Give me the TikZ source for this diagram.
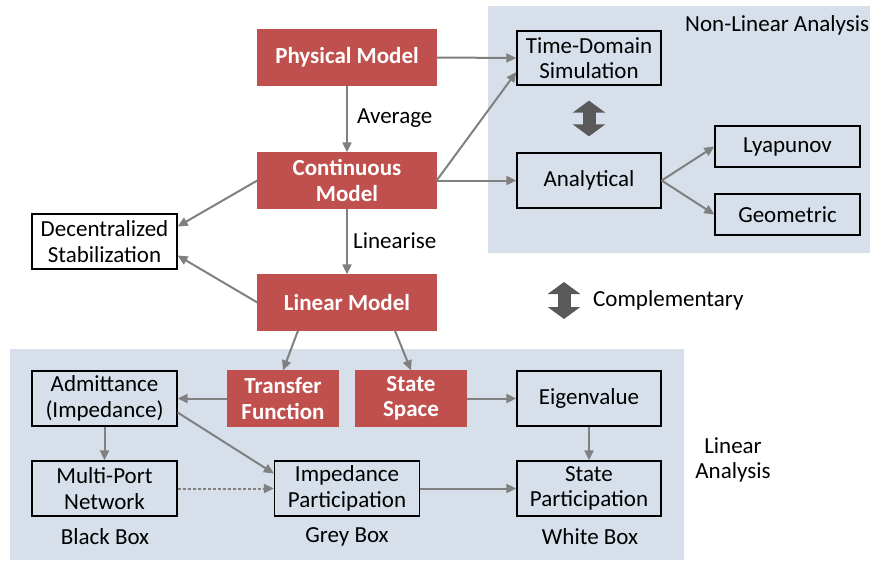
\documentclass[tikz,border=0pt]{standalone}
\usepackage{fontspec}
\setmainfont{Carlito}
\usetikzlibrary{arrows.meta}

\definecolor{modelred}{HTML}{C0504D}
\definecolor{panelblue}{HTML}{D6DFEA}
\definecolor{linkgrey}{HTML}{808080}
\definecolor{swapgrey}{HTML}{595959}

\tikzstyle{block} = [draw, rectangle, line width=1.3pt, align=center, inner sep=0pt, minimum width=145pt, minimum height=55pt, font=\fontsize{23}{25.5}\selectfont]
\tikzstyle{model-block} = [block, draw=modelred, fill=modelred, text=white, minimum width=178pt, font=\fontsize{23}{25.5}\selectfont\bfseries]
\tikzstyle{domain-block} = [model-block, minimum width=110pt]
\tikzstyle{small-block} = [block, minimum height=41pt]
\tikzstyle{caption-text} = [inner sep=0pt, font=\fontsize{23}{25.5}\selectfont]
\tikzstyle{flow} = [draw=linkgrey, line width=2pt, -{Triangle[length=10pt,width=9pt]}]
\tikzstyle{both-way} = [draw=swapgrey, line width=13pt, {Triangle[length=12pt,width=32pt]}-{Triangle[length=12pt,width=32pt]}]

\begin{document}
\begin{tikzpicture}[x=1pt, y=-1pt]

	\useasboundingbox (0,0) rectangle (870,562);

	% analysis panels
	\fill [panelblue] (488,6) rectangle (870,253);
	\fill [panelblue] (10,349) rectangle (684,560);

	\node [model-block] (Phys) at (347,57.5) {Physical Model};
	\node [model-block] (Cont) at (347,180.5) {Continuous\\Model};
	\node [model-block] (Lin) at (347,302.5) {Linear Model};
	\node [block] (Dec) at (104.5,241.5) {Decentralized\\Stabilization};

	\node [block, minimum width=144pt, minimum height=54pt] (TDS) at (589,58) {Time-Domain\\Simulation};
	\node [block, minimum width=144pt] (Anal) at (589,180.5) {Analytical};
	\node [small-block] (Lyap) at (787.5,146.5) {Lyapunov};
	\node [small-block] (Geom) at (787.5,214.5) {Geometric};

	\node [domain-block] (TF) at (283,398.5) {Transfer\\Function};
	\node [domain-block] (SS) at (411,398.5) {State\\Space};
	\node [block] (Adm) at (104.5,398.5) {Admittance\\(Impedance)};
	\node [block, minimum width=144pt] (Eig) at (589,398.5) {Eigenvalue};
	\node [block] (MPN) at (104.5,488.5) {Multi-Port\\Network};
	\node [block] (IPart) at (347,488.5) {Impedance\\Participation};
	\node [block, minimum width=144pt] (SPart) at (589,488.5) {State\\Participation};

	\node [caption-text, anchor=west] (Avg) at (357,118) {Average};
	\node [caption-text, anchor=west] (Lnz) at (353,241) {Linearise};
	\node [caption-text, anchor=west] (Comp) at (593,300) {Complementary};
	\node [caption-text, anchor=west] (NLA) at (685,25) {Non-Linear Analysis};
	\node [caption-text, align=center] (LA) at (733,460) {Linear\\Analysis};
	\node [caption-text] (BB) at (105,537) {Black Box};
	\node [caption-text] (GB) at (347,537) {Grey Box};
	\node [caption-text] (WB) at (590,537) {White Box};

	\coordinate (CompTop) at (564,282);
	\coordinate (CompBot) at (564,319);

	\draw [flow] (Phys.east) -- (TDS.west);
	\draw [flow] (Phys.south) -- (Cont.north);
	\draw [flow] (Cont.east) -- ([yshift=-14pt]TDS.west);
	\draw [flow] (Cont.east) -- (Anal.west);
	\draw [flow] (Anal.east) -- (Lyap.west);
	\draw [flow] (Anal.east) -- (Geom.west);
	\draw [flow] (Cont.south) -- (Lin.north);
	\draw [flow] (Cont.west) -- ([yshift=15pt]Dec.east);
	\draw [flow] (Lin.west) -- ([yshift=-14pt]Dec.east);

	\draw [flow] ([xshift=-49pt]Lin.south) -- (TF.north);
	\draw [flow] ([xshift=48pt]Lin.south) -- (SS.north);
	\draw [flow] (TF.west) -- (Adm.east);
	\draw [flow] (SS.east) -- (Eig.west);
	\draw [flow] (Adm.south) -- (MPN.north);
	\draw [flow] ([yshift=-14pt]Adm.east) -- ([yshift=15pt]IPart.west);
	\draw [flow, dash pattern=on 3pt off 2pt] (MPN.east) -- (IPart.west);
	\draw [flow] (IPart.east) -- (SPart.west);
	\draw [flow] (Eig.south) -- (SPart.north);

	\draw [both-way, shorten <=15pt, shorten >=16pt] (TDS.south) -- (Anal.north);
	\draw [both-way] (CompTop) -- (CompBot);

\end{tikzpicture}
\end{document}
